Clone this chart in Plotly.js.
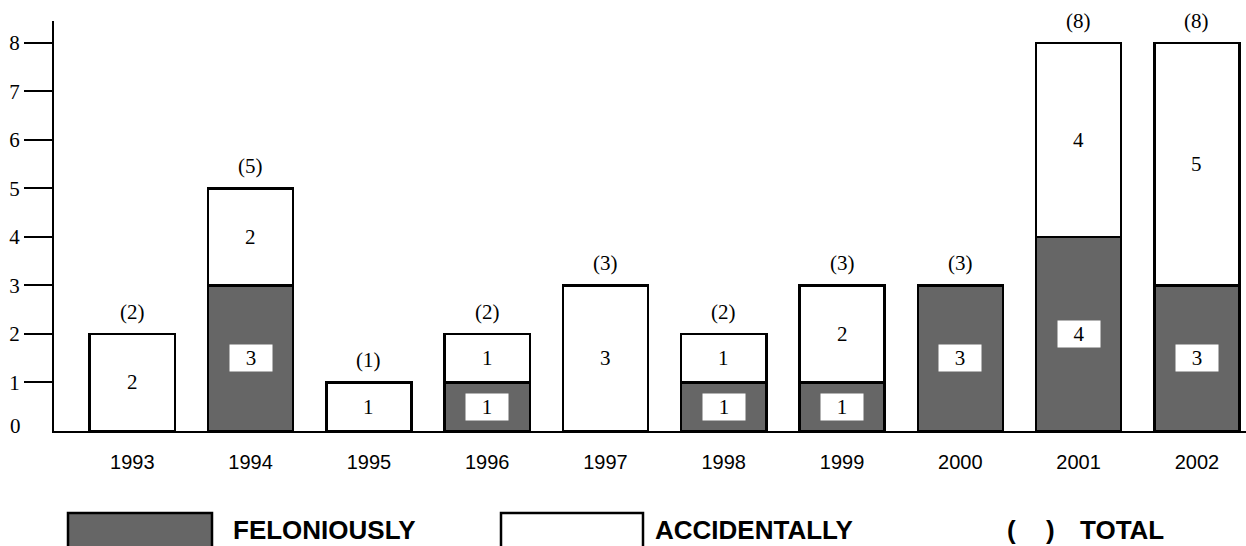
<!DOCTYPE html>
<html>
<head>
<meta charset="utf-8">
<script src="https://cdn.plot.ly/plotly-3.0.1.min.js"></script>
<style>html,body{margin:0;padding:0;background:#fff;}#chart{width:1246px;height:546px;}</style>
</head>
<body>
<div id="chart"></div>
<script>
// ---- data ----
var years = ['1993','1994','1995','1996','1997','1998','1999','2000','2001','2002'];
var feloniously = [0, 3, 0, 1, 0, 1, 1, 3, 4, 3];
var accidentally = [2, 2, 1, 1, 3, 1, 2, 0, 4, 5];
var yTickVals = [1, 2, 3, 4, 5, 6, 7, 8];
var legendLabels = ['FELONIOUSLY', 'ACCIDENTALLY', 'TOTAL'];

// ---- layout helpers ----
var W = 1246, H = 546;
var M = {l: 54, r: 0, t: 21, b: 115};
var plotW = W - M.l - M.r, plotH = H - M.t - M.b;
function px(x) { return (x - M.l) / plotW; }
function py(y) { return (H - M.b - y) / plotH; }

var serif = 'Liberation Serif, Times New Roman, serif';
var sans = 'Liberation Sans, Arial, sans-serif';
var GRAY = '#666666';

var traces = [
  {
    type: 'bar', x: years, y: feloniously, name: legendLabels[0],
    marker: {color: GRAY, line: {color: '#000', width: 2.5}},
    width: 0.72, hoverinfo: 'skip'
  },
  {
    type: 'bar', x: years, y: accidentally, name: legendLabels[1],
    marker: {color: '#ffffff', line: {color: '#000', width: 2.5}},
    width: 0.72, hoverinfo: 'skip'
  }
];

var annotations = [];
for (var i = 0; i < years.length; i++) {
  var f = feloniously[i], a = accidentally[i], tot = f + a;
  if (f > 0) {
    annotations.push({
      x: i, y: f / 2, xref: 'x', yref: 'y', text: String(f),
      showarrow: false, bgcolor: '#ffffff', width: 40, height: 24, borderpad: 1,
      font: {family: serif, size: 21, color: '#000'}
    });
  }
  if (a > 0) {
    annotations.push({
      x: i, y: f + a / 2, xref: 'x', yref: 'y', text: String(a),
      showarrow: false, font: {family: serif, size: 21, color: '#000'}
    });
  }
  annotations.push({
    x: i, y: tot, xref: 'x', yref: 'y', text: '(' + tot + ')',
    showarrow: false, yanchor: 'bottom', yshift: 8,
    font: {family: serif, size: 21, color: '#000'}
  });
}
// zero label on the y axis (no tick mark in the reference)
annotations.push({
  x: px(23), y: 0, xref: 'paper', yref: 'y', text: '0', showarrow: false,
  xanchor: 'right', yshift: 5, font: {family: serif, size: 21, color: '#000'}
});
// legend texts
var legY = py(513);
var legFont = {family: sans, size: 26, color: '#000'};
annotations.push({x: px(231), y: legY, xref: 'paper', yref: 'paper', text: '<b>' + legendLabels[0] + '</b>',
  showarrow: false, xanchor: 'left', yanchor: 'top', font: legFont});
annotations.push({x: px(653), y: legY, xref: 'paper', yref: 'paper', text: '<b>' + legendLabels[1] + '</b>',
  showarrow: false, xanchor: 'left', yanchor: 'top', font: legFont});
annotations.push({x: px(1011), y: legY, xref: 'paper', yref: 'paper', text: '<b>(</b>',
  showarrow: false, xanchor: 'center', yanchor: 'top', font: legFont});
annotations.push({x: px(1050), y: legY, xref: 'paper', yref: 'paper', text: '<b>)</b>',
  showarrow: false, xanchor: 'center', yanchor: 'top', font: legFont});
annotations.push({x: px(1078), y: legY, xref: 'paper', yref: 'paper', text: '<b>' + legendLabels[2] + '</b>',
  showarrow: false, xanchor: 'left', yanchor: 'top', font: legFont});

var shapes = [
  {type: 'rect', xref: 'paper', yref: 'paper', x0: px(68), x1: px(212), y0: py(513), y1: py(570),
   fillcolor: GRAY, line: {color: '#000', width: 2.5}},
  {type: 'rect', xref: 'paper', yref: 'paper', x0: px(501), x1: px(643), y0: py(513), y1: py(570),
   fillcolor: '#ffffff', line: {color: '#000', width: 2.5}}
];

var layout = {
  width: W, height: H,
  margin: M,
  paper_bgcolor: '#fff', plot_bgcolor: '#fff',
  barmode: 'stack',
  showlegend: false,
  xaxis: {
    type: 'category', range: [-0.662, 9.415], showgrid: false, zeroline: false,
    showline: true, linecolor: '#000', linewidth: 2,
    ticks: '', ticklabelstandoff: 12,
    tickfont: {family: sans, size: 20, color: '#000'}, fixedrange: true
  },
  yaxis: {
    range: [0, 8.45], showgrid: false, zeroline: false,
    showline: true, linecolor: '#000', linewidth: 2,
    tickvals: yTickVals, ticktext: yTickVals.map(String),
    ticks: 'outside', ticklen: 28, tickwidth: 2, tickcolor: '#000',
    tickfont: {family: serif, size: 21, color: '#000'}, fixedrange: true
  },
  annotations: annotations,
  shapes: shapes
};

Plotly.newPlot('chart', traces, layout, {staticPlot: true, displayModeBar: false});
</script>
</body>
</html>
